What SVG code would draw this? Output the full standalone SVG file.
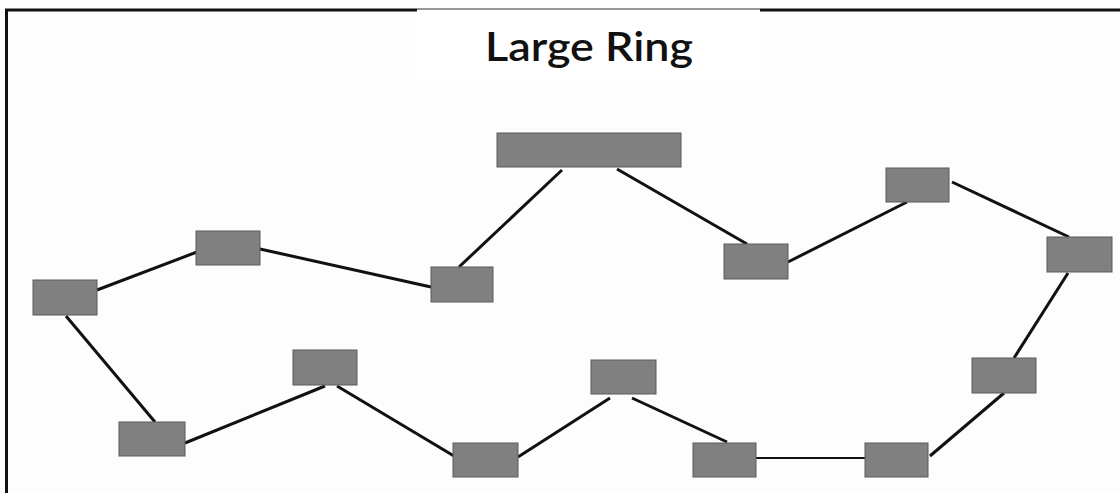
<svg xmlns="http://www.w3.org/2000/svg" width="1120" height="493" viewBox="0 0 1120 493">
  <style>
    .node { fill: #808080; stroke: #5a5a5a; stroke-width: 1; }
    .link { stroke: #111; stroke-width: 3; stroke-linecap: butt; fill: none; }
    .frame { stroke: #111; stroke-width: 3; fill: none; }
    .title { font-family: Lato, "Open Sans", "Liberation Sans", sans-serif; font-size: 41px; font-weight: 600; fill: #111; }
  </style>

  <!-- page -->
  <rect x="0" y="0" width="1120" height="493" fill="#fdfdfd"/>

  <!-- frame: top rule and left rule -->
  <g id="frame">
    <path class="frame" d="M6.5,493 V10 H417"/>
    <line class="frame" x1="760" y1="10" x2="1120" y2="10"/>
    <line x1="417" y1="9" x2="760" y2="9" stroke="#333" stroke-width="1"/>
  </g>

  <!-- title -->
  <g id="title">
    <rect x="417" y="10" width="343" height="70" fill="#ffffff"/>
    <text class="title" x="589" y="61" text-anchor="middle" textLength="208" lengthAdjust="spacingAndGlyphs">Large Ring</text>
  </g>

  <!-- ring links -->
  <g id="connectors">
    <line class="link" x1="97" y1="290" x2="197" y2="252"/>
    <line class="link" x1="260" y1="249" x2="431" y2="287"/>
    <line class="link" x1="459" y1="267" x2="562" y2="170"/>
    <line class="link" x1="617" y1="169" x2="747" y2="244"/>
    <line class="link" x1="788" y1="262" x2="907" y2="202"/>
    <line class="link" x1="952" y1="182" x2="1069" y2="237"/>
    <line class="link" x1="1068" y1="273" x2="1014" y2="358"/>
    <line class="link" x1="1004" y1="393" x2="930" y2="456"/>
    <line x1="756" y1="458" x2="865" y2="458" stroke="#111" stroke-width="2"/>
    <line class="link" x1="727" y1="442" x2="632" y2="398"/>
    <line class="link" x1="610" y1="398" x2="518" y2="457"/>
    <line class="link" x1="454" y1="456" x2="337" y2="386"/>
    <line class="link" x1="325" y1="386" x2="185" y2="443"/>
    <line class="link" x1="155" y1="422" x2="66" y2="316"/>
  </g>

  <!-- ring nodes -->
  <g id="node-1"><rect class="node" x="33" y="280" width="64" height="35"/></g>
  <g id="node-2"><rect class="node" x="196" y="231" width="64" height="34"/></g>
  <g id="node-3"><rect class="node" x="431" y="267" width="62" height="35"/></g>
  <g id="node-4"><rect class="node" x="497" y="133" width="184" height="34"/></g>
  <g id="node-5"><rect class="node" x="724" y="244" width="64" height="35"/></g>
  <g id="node-6"><rect class="node" x="886" y="168" width="63" height="34"/></g>
  <g id="node-7"><rect class="node" x="1047" y="237" width="65" height="35"/></g>
  <g id="node-8"><rect class="node" x="972" y="358" width="64" height="35"/></g>
  <g id="node-9"><rect class="node" x="865" y="443" width="63" height="34"/></g>
  <g id="node-10"><rect class="node" x="693" y="443" width="63" height="34"/></g>
  <g id="node-11"><rect class="node" x="591" y="360" width="65" height="34"/></g>
  <g id="node-12"><rect class="node" x="453" y="443" width="65" height="34"/></g>
  <g id="node-13"><rect class="node" x="293" y="350" width="64" height="35"/></g>
  <g id="node-14"><rect class="node" x="119" y="422" width="66" height="34"/></g>
</svg>
